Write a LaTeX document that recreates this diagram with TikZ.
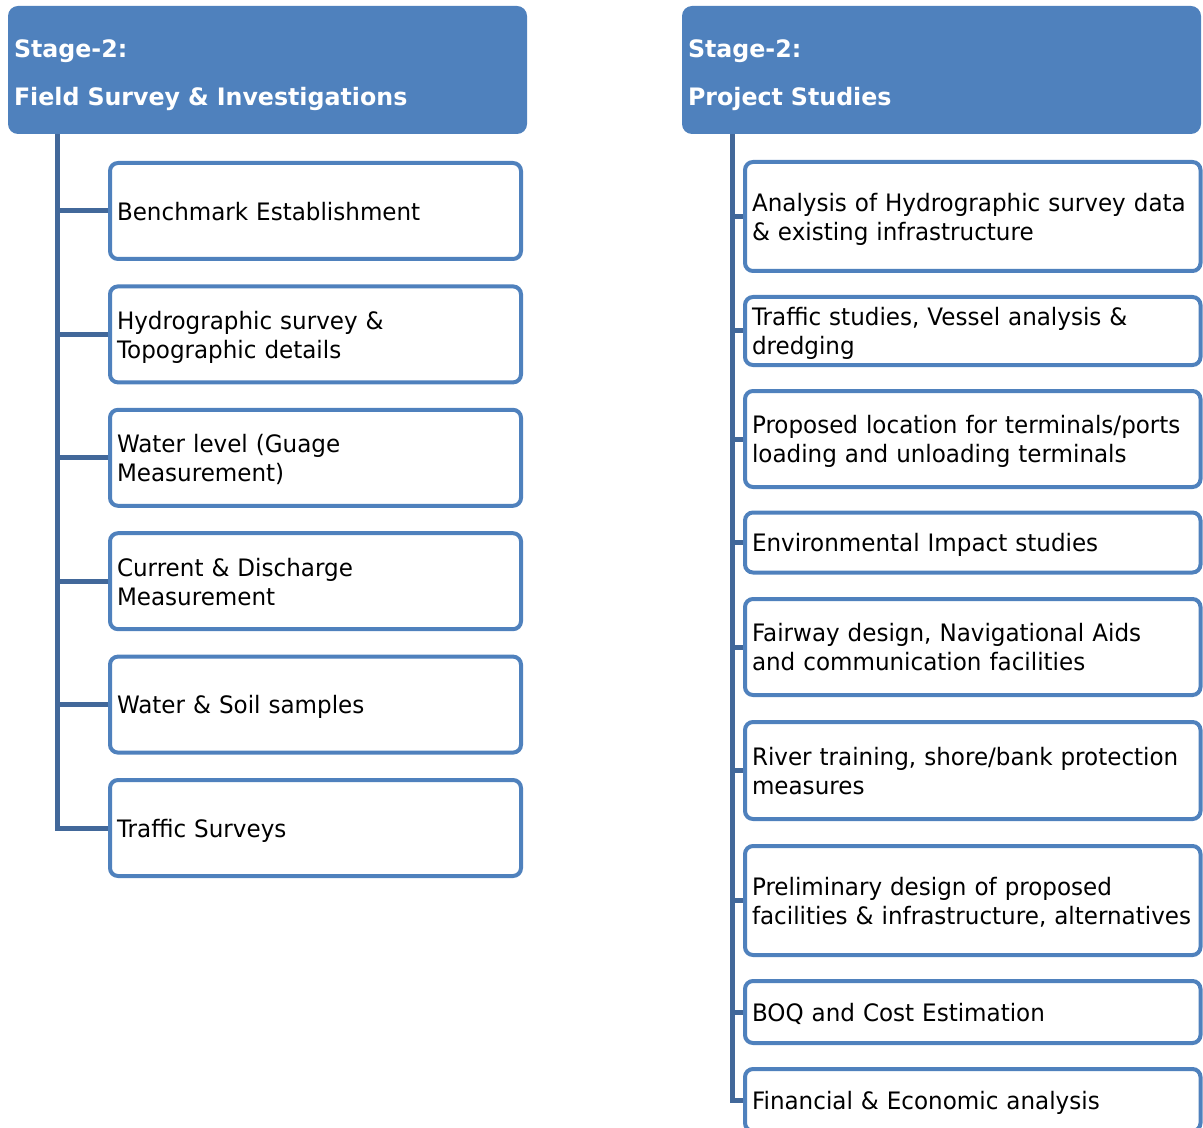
\documentclass[tikz,border=0pt]{standalone}
\usepackage{fontspec}
\setmainfont{DejaVu Sans}
\newfontfamily\bodyfont{DejaVu Sans}[FakeStretch=0.96]
\newfontfamily\headfont{DejaVu Sans}[FakeStretch=0.988]
\definecolor{hdr}{RGB}{79,129,189}
\definecolor{edgeblue}{RGB}{79,129,189}
\definecolor{connblue}{RGB}{66,104,154}
\newcommand\hstrut{\rule[-3pt]{0pt}{17.5pt}}
\newcommand\bstrut{\rule[-3pt]{0pt}{15.3pt}}
\newcommand\dstrut{\rule[-3pt]{0pt}{3pt}}
\begin{document}
\begin{tikzpicture}[x=0.5pt,y=-0.5pt,
  header/.style={fill=hdr, rounded corners=5pt, minimum width=259.5pt, minimum height=64pt,
    text width=253.5pt, inner xsep=3pt, inner ysep=0pt, align=left, text=white,
    font=\headfont\bfseries\fontsize{12}{24}\selectfont,
    execute at begin node=\hstrut, execute at end node=\dstrut},
  item/.style={draw=edgeblue, line width=2pt, fill=white, rounded corners=4pt,
    inner xsep=3.5pt, inner ysep=0pt, align=left, text=black,
    font=\bodyfont\fontsize{12}{14.5}\selectfont,
    execute at begin node=\bstrut, execute at end node=\dstrut},
  litem/.style={item, minimum width=205.5pt, text width=198.5pt, minimum height=48pt},
  ritem/.style={item, minimum width=227.75pt, text width=220.75pt},
  link/.style={draw=connblue, line width=2.5pt}]
\useasboundingbox (0,0) rectangle (1203,1128);
\clip (0,0) rectangle (1203,1128);

% headers
\node[header] (Lhead) at (267.5,70) {Stage-2:\\Field Survey \& Investigations};
\node[header] (Rhead) at (941.5,70) {Stage-2:\\Project Studies};

% left column items
\node[litem] (L1) at (315.5,211)   {Benchmark Establishment};
\node[litem] (L2) at (315.5,334.4) {Hydrographic survey \&\\Topographic details};
\node[litem] (L3) at (315.5,457.8) {Water level (Guage\\Measurement)};
\node[litem] (L4) at (315.5,581.2) {Current \& Discharge\\Measurement};
\node[litem] (L5) at (315.5,704.6) {Water \& Soil samples};
\node[litem] (L6) at (315.5,828)   {Traffic Surveys};

% right column items
\node[ritem, minimum height=54.5pt] (R1) at (972.75,216.5) {Analysis of Hydrographic survey data\\\& existing infrastructure};
\node[ritem, minimum height=34pt]   (R2) at (972.75,331)   {Traffic studies, Vessel analysis \&\\dredging};
\node[ritem, minimum height=48pt]   (R3) at (972.75,439)   {Proposed location for terminals/ports\\loading and unloading terminals};
\node[ritem, minimum height=30pt]   (R4) at (972.75,542.5) {Environmental Impact studies};
\node[ritem, minimum height=48pt]   (R5) at (972.75,647)   {Fairway design, Navigational Aids\\and communication facilities};
\node[ritem, minimum height=48.5pt] (R6) at (972.75,770.5) {River training, shore/bank protection\\measures};
\node[ritem, minimum height=54.5pt] (R7) at (972.75,900.5) {Preliminary design of proposed\\facilities \& infrastructure, alternatives};
\node[ritem, minimum height=31pt]   (R8) at (972.75,1012)  {BOQ and Cost Estimation};
\node[ritem, minimum height=31pt]   (R9) at (972.75,1100)  {Financial \& Economic analysis};

% connectors
\coordinate (Lx) at (57,0);
\coordinate (Rx) at (732,0);
\draw[link] (Lhead.south -| Lx) |- (L6.west);
\foreach \n in {1,...,5} \draw[link] (L\n.west -| Lx) -- (L\n.west);
\draw[link] (Rhead.south -| Rx) |- (R9.west);
\foreach \n in {1,...,8} \draw[link] (R\n.west -| Rx) -- (R\n.west);
\end{tikzpicture}
\end{document}
